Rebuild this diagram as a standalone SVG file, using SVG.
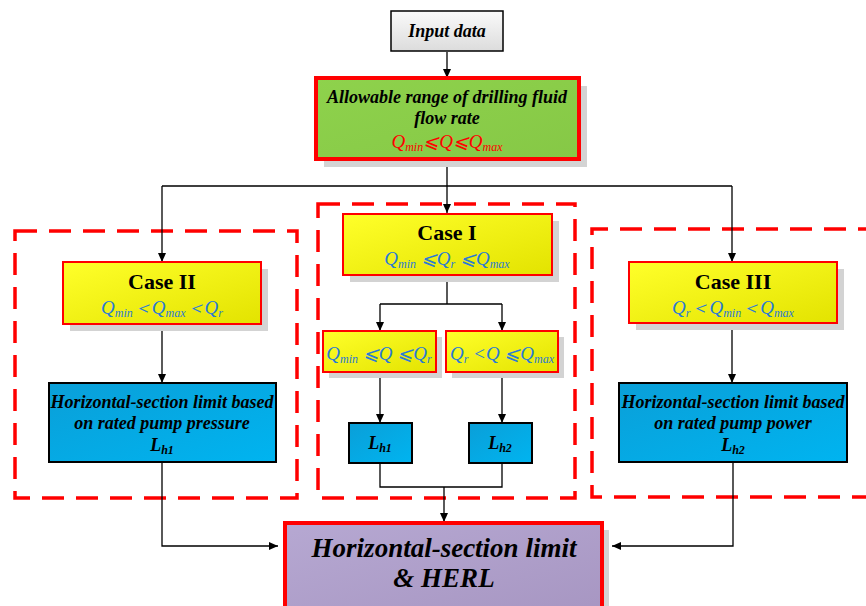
<svg xmlns="http://www.w3.org/2000/svg" width="866" height="606" viewBox="0 0 866 606">
<style>
text{font-family:'Liberation Serif','Times New Roman',serif}
.t{font-style:italic;font-weight:bold;font-size:18px;fill:#000;text-anchor:middle}
.c{font-weight:bold;font-size:22px;fill:#000;text-anchor:middle}
.f{font-style:italic;font-size:19px;fill:#2A7AD5;text-anchor:middle}
.fr{fill:#FF0000}
.s{font-size:12px}
.sh{fill:#d3d3d3}
.yel{fill:url(#gy);stroke:#FF0000;stroke-width:2}
.blu{fill:url(#gb);stroke:#000;stroke-width:2}
.dash{fill:none;stroke:#FF0000;stroke-width:3.5;stroke-dasharray:22 12}
.ln{fill:none;stroke:#000;stroke-width:1.3}
.ar{fill:none;stroke:#000;stroke-width:1.3;marker-end:url(#ah)}
.big{font-style:italic;font-weight:bold;font-size:27px;fill:#000;text-anchor:middle}
</style>
<defs>
<linearGradient id="gy" x1="0" y1="0" x2="1" y2="1"><stop offset="0" stop-color="#FFFF2A"/><stop offset="1" stop-color="#E3E300"/></linearGradient>
<linearGradient id="gb" x1="0" y1="0" x2="1" y2="1"><stop offset="0" stop-color="#0A9FD8"/><stop offset="1" stop-color="#00B4F0"/></linearGradient>
<linearGradient id="gg" x1="0" y1="0" x2="1" y2="1"><stop offset="0" stop-color="#8ED24C"/><stop offset="1" stop-color="#86C846"/></linearGradient>
<linearGradient id="gw" x1="0" y1="0" x2="0" y2="1"><stop offset="0" stop-color="#FAFAFA"/><stop offset="1" stop-color="#DCDCDC"/></linearGradient>
<linearGradient id="gp" x1="0" y1="0" x2="1" y2="1"><stop offset="0" stop-color="#B6A8D2"/><stop offset="1" stop-color="#A796C2"/></linearGradient>
<marker id="ah" markerWidth="10" markerHeight="10" refX="9" refY="5" orient="auto" markerUnits="userSpaceOnUse"><path d="M0,1 L9,5 L0,9 Z" fill="#000"/></marker>
</defs>

<g id="groups">
<rect class="dash" x="15" y="231" width="282" height="267"/>
<rect class="dash" x="318" y="204" width="257" height="294"/>
<path class="dash" d="M880,229 H592 V497 H880"/>
</g>

<g id="connectors">
<path class="ar" d="M447,52 V78"/>
<path class="ln" d="M447,159 V186 M162,186 H732"/>
<path class="ar" d="M162,186 V262"/>
<path class="ar" d="M447,186 V213"/>
<path class="ar" d="M732,186 V262"/>
<path class="ar" d="M162,324 V383"/>
<path class="ar" d="M732,323 V383"/>
<path class="ln" d="M447,275 V304 M380,304 H502"/>
<path class="ar" d="M380,304 V331"/>
<path class="ar" d="M502,304 V331"/>
<path class="ar" d="M380,372 V423"/>
<path class="ar" d="M502,372 V423"/>
<path class="ln" d="M380,463 V487 H502 V463"/>
<path class="ar" d="M444,487 V522"/>
<path class="ar" d="M162,462 V546 H278"/>
<path class="ar" d="M733,462 V546 H612"/>
</g>

<g id="input">
<rect x="391" y="11" width="112" height="40" fill="url(#gw)" stroke="#000" stroke-width="1.5"/>
<text class="t" x="447" y="37">Input data</text>
</g>

<g id="range">
<rect class="sh" x="324" y="86" width="263" height="81"/>
<rect x="316" y="78" width="263" height="81" fill="url(#gg)" stroke="#FF0000" stroke-width="4"/>
<text class="t" x="447" y="103">Allowable range of drilling fluid</text>
<text class="t" x="447" y="124">flow rate</text>
<text class="f fr" x="447" y="148">Q<tspan class="s" dy="3">min</tspan><tspan dy="-3">⩽Q⩽Q</tspan><tspan class="s" dy="3">max</tspan></text>
</g>

<g id="case2">
<rect class="sh" x="70" y="269" width="198" height="62"/>
<rect class="yel" x="63" y="262" width="198" height="62"/>
<text class="c" x="162" y="289">Case II</text>
<text class="f" x="162" y="314">Q<tspan class="s" dy="3">min</tspan><tspan dy="-3">＜Q</tspan><tspan class="s" dy="3">max</tspan><tspan dy="-3">＜Q</tspan><tspan class="s" dy="3">r</tspan></text>
</g>

<g id="limit-pressure">
<rect class="blu" x="49" y="383" width="227" height="79"/>
<text class="t" x="162" y="408">Horizontal-section limit based</text>
<text class="t" x="162" y="429">on rated pump pressure</text>
<text class="t" x="162" y="451">L<tspan class="s" dy="3">h1</tspan></text>
</g>

<g id="case1">
<rect class="sh" x="350" y="221" width="209" height="61"/>
<rect class="yel" x="343" y="214" width="209" height="61"/>
<text class="c" x="447" y="240">Case I</text>
<text class="f" x="447" y="265">Q<tspan class="s" dy="3">min</tspan><tspan dy="-3"> ⩽Q</tspan><tspan class="s" dy="3">r</tspan><tspan dy="-3"> ⩽Q</tspan><tspan class="s" dy="3">max</tspan></text>
</g>

<g id="sub1">
<rect class="sh" x="329" y="337" width="113" height="41"/>
<rect class="yel" x="323" y="331" width="113" height="41"/>
<text class="f" x="379" y="360">Q<tspan class="s" dy="3">min</tspan><tspan dy="-3"> ⩽Q ⩽Q</tspan><tspan class="s" dy="3">r</tspan></text>
</g>

<g id="sub2">
<rect class="sh" x="452" y="337" width="112" height="41"/>
<rect class="yel" x="446" y="331" width="112" height="41"/>
<text class="f" x="502" y="360">Q<tspan class="s" dy="3">r</tspan><tspan dy="-3"> &lt;Q ⩽Q</tspan><tspan class="s" dy="3">max</tspan></text>
</g>

<g id="lh1">
<rect class="blu" x="349" y="423" width="63" height="40"/>
<text class="t" x="380" y="449">L<tspan class="s" dy="3">h1</tspan></text>
</g>

<g id="lh2">
<rect class="blu" x="469" y="423" width="63" height="40"/>
<text class="t" x="500" y="449">L<tspan class="s" dy="3">h2</tspan></text>
</g>

<g id="case3">
<rect class="sh" x="636" y="269" width="208" height="61"/>
<rect class="yel" x="629" y="262" width="208" height="61"/>
<text class="c" x="733" y="289">Case III</text>
<text class="f" x="733" y="314">Q<tspan class="s" dy="3">r</tspan><tspan dy="-3">＜Q</tspan><tspan class="s" dy="3">min</tspan><tspan dy="-3">＜Q</tspan><tspan class="s" dy="3">max</tspan></text>
</g>

<g id="limit-power">
<rect class="blu" x="619" y="383" width="228" height="79"/>
<text class="t" x="733" y="408">Horizontal-section limit based</text>
<text class="t" x="733" y="429">on rated pump power</text>
<text class="t" x="733" y="451">L<tspan class="s" dy="3">h2</tspan></text>
</g>

<g id="result">
<rect class="sh" x="292" y="530" width="317" height="90"/>
<rect x="285" y="523" width="317" height="90" fill="url(#gp)" stroke="#FF0000" stroke-width="4"/>
<text class="big" x="444" y="557">Horizontal-section limit</text>
<text class="big" x="444" y="587">&amp; HERL</text>
</g>
</svg>
